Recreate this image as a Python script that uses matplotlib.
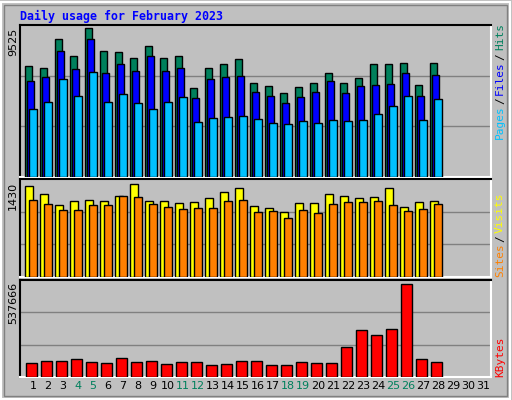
import matplotlib
matplotlib.use("Agg")
import matplotlib.pyplot as plt
import numpy as np

days = list(range(1, 29))
hits = [6940, 6810, 8640, 7570, 9340, 7880, 7820, 7440, 8200, 7440, 7570, 5550, 6810, 7060, 7380, 5870,
        5680, 5240, 5620, 5870, 6500, 5870, 6180, 7070, 7070, 7130, 5740, 7130]
files = [5990, 6240, 7880, 6750, 8640, 6500, 7070, 6620, 7570, 6620, 6810, 4920, 6120, 6250, 6310, 5300,
         5050, 4610, 4990, 5300, 5990, 5240, 5680, 5740, 5810, 6500, 5050, 6370]
pages = [4290, 4730, 6120, 5050, 6560, 4730, 5170, 4610, 4290, 4730, 4990, 3470, 3720, 3790, 3850, 3660,
         3410, 3340, 3530, 3410, 3600, 3530, 3600, 3970, 4480, 5050, 3600, 4860]
visits = [1330, 1210, 1050, 1110, 1120, 1110, 1180, 1360, 1110, 1110, 1080, 1090, 1150, 1240, 1300, 1040,
          1010, 950, 1080, 1080, 1210, 1180, 1150, 1170, 1300, 1020, 1090, 1110]
sites = [1120, 1070, 980, 980, 1050, 1050, 1180, 1170, 1070, 1020, 990, 1000, 1000, 1110, 1120, 950,
         960, 860, 980, 940, 1070, 1100, 1090, 1110, 1050, 970, 990, 1070]
kbytes = [40, 46, 46, 52, 43, 40, 55, 43, 46, 37, 43, 43, 34, 37, 46, 46, 34, 34, 43, 40, 40, 88, 139, 124, 142, 274, 52, 43]
kbytes = [k / 274 * 537666 for k in kbytes]
xlabels = [str(d) for d in range(1, 32)]
weekend = {4, 5, 11, 12, 18, 19, 25, 26}

W, H = 512, 400
fig = plt.figure(figsize=(5.12, 4.0), dpi=100)
fig.patch.set_facecolor("#C0C0C0")
mono = "DejaVu Sans Mono"

# outer bevel
fig.add_artist(plt.Rectangle((1/W, 1/H), 1 - 3/W, 1 - 3/H, transform=fig.transFigure,
                             fill=False, edgecolor="white", lw=1.5))
fig.add_artist(plt.Rectangle((4/W, 4/H), 1 - 9/W, 1 - 9/H, transform=fig.transFigure,
                             fill=False, edgecolor="#808080", lw=1))

def ax_px(top, bottom, left=20, right=491):
    return fig.add_axes([left / W, 1 - bottom / H, (right - left) / W, (bottom - top) / H])

x0, x1 = 0.167, 31.57
axes = []
for (t, b) in [(25, 177), (179, 277), (280, 377)]:
    a = ax_px(t, b)
    a.set_facecolor("#C0C0C0")
    a.set_xlim(x0, x1)
    a.set_xticks([]); a.set_yticks([])
    for s in ["top", "left"]:
        a.spines[s].set_color("black")
    for s in ["bottom", "right"]:
        a.spines[s].set_color("white")
    for s in a.spines.values():
        s.set_linewidth(1.5)
    axes.append(a)

d = np.array(days, dtype=float)
kw = dict(align="edge", edgecolor="black", linewidth=1, zorder=3)
a1, a2, a3 = axes
m1 = 9525
a1.set_ylim(0, m1)
for g in (m1 / 3, 2 * m1 / 3):
    a1.axhline(g, color="#808080", lw=1, zorder=1)
a1.bar(d - 0.5, hits, 0.47, color="#00805C", **kw)
a1.bar(d - 0.37, files, 0.5, color="#0000FF", **kw)
a1.bar(d - 0.23, pages, 0.5, color="#00C0FF", **kw)

m2 = 1430
a2.set_ylim(0, m2)
for g in (m2 / 3, 2 * m2 / 3):
    a2.axhline(g, color="#808080", lw=1, zorder=1)
a2.bar(d - 0.5, visits, 0.55, color="#FFFF00", **kw)
a2.bar(d - 0.23, sites, 0.5, color="#FF8000", **kw)

m3 = 537666
a3.set_ylim(0, m3 * 96 / 92)
for g in (m3 * 96 / 92 / 3, 2 * m3 * 96 / 92 / 3):
    a3.axhline(g, color="#808080", lw=1, zorder=1)
a3.bar(d - 0.43, kbytes, 0.7, color="#FF0000", **kw)

for i, lab in enumerate(xlabels):
    day = i + 1
    a3.text(day + 0.03, -0.09, lab, transform=a3.get_xaxis_transform(), ha="center", va="center",
            fontsize=8, color="#00805C" if day in weekend else "black", clip_on=False)

fig.text(20 / W, 1 - 16 / H, "Daily usage for February 2023", fontsize=8.4, family=mono,
         weight="bold", color="#0000FF", va="center", ha="left")

for txt, top in [("9525", 28), ("1430", 182), ("537666", 282)]:
    fig.text(13 / W, 1 - top / H, txt, rotation=90, fontsize=8, ha="center", va="top")

def vstack(parts, bottom):
    y = bottom
    for txt, col in parts:
        t = fig.text(500 / W, 1 - y / H, txt, rotation=90, fontsize=8, family=mono,
                     color=col, ha="center", va="bottom")
        y -= len(txt) * 6.4 + 3

vstack([("Pages", "#00C0FF"), ("/", "black"), ("Files", "#0000FF"), ("/", "black"), ("Hits", "#00805C")], 139)
vstack([("Sites", "#FF8000"), ("/", "black"), ("Visits", "#FFFF00")], 277)
vstack([("KBytes", "#FF0000")], 377)

fig.savefig("out.png", dpi=100, facecolor=fig.get_facecolor())
